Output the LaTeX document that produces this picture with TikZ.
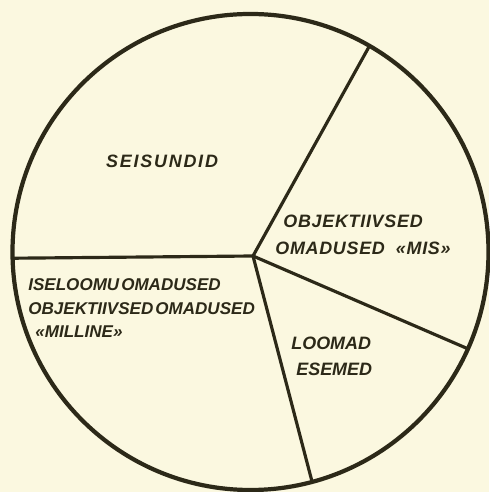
\documentclass[tikz,border=0pt]{standalone}
\usepackage{fontspec}
\setsansfont{Liberation Sans}
\usepackage{tikz}
\usetikzlibrary{positioning,calc}
\definecolor{papercol}{HTML}{FBF8E0}
\definecolor{inkcol}{HTML}{2C2918}
\tikzstyle{rim}=[draw=inkcol, line width=2.4pt]
\tikzstyle{spoke}=[draw=inkcol, line width=1.8pt]
\tikzstyle{sectortext}=[inner sep=0pt, text=inkcol, font=\sffamily\bfseries\itshape\fontsize{10.2}{14}\selectfont]

\begin{document}
\begin{tikzpicture}[x=0.2mm, y=0.2mm]
    \fill[papercol] (-250.5,-240) rectangle (238.5,252);
    \useasboundingbox (-250.5,-240) rectangle (238.5,252);

    \coordinate (mid) at (0,0);
    \coordinate (hub) at (2.5,-4);
    \coordinate (rimA) at (60:238);
    \coordinate (rimB) at (-24:238);
    \coordinate (rimC) at (-75:238);
    \coordinate (rimD) at (181.5:238);

    \draw[rim] (mid) circle (238);
    \draw[spoke] (hub) -- (rimA);
    \draw[spoke] (hub) -- (rimB);
    \draw[spoke] (hub) -- (rimC);
    \draw[spoke] (hub) -- (rimD);

    \node[sectortext] (states) at (-88.5,91) {\addfontfeature{LetterSpace=10}SEISUNDID};
    \node[sectortext, anchor=north west, align=left,
          font=\sffamily\bfseries\itshape\fontsize{10.2}{15.3}\selectfont\addfontfeature{LetterSpace=4}]
          (mis) at (24.5,37.5) {\hspace*{1.6mm}OBJEKTIIVSED\\OMADUSED\hspace{2.2mm}«MIS»};
    \node[sectortext, anchor=north west, align=left,
          font=\sffamily\bfseries\itshape\fontsize{9.7}{13.4}\selectfont]
          (milline) at (-222.5,-26.5) {ISELOOMU\hspace{0.4mm}OMADUSED\\OBJEKTIIVSED\hspace{0.4mm}OMADUSED\\\hspace*{1.4mm}«MILLINE»};
    \node[sectortext, anchor=north west, align=left,
          font=\sffamily\bfseries\itshape\fontsize{10.2}{14.8}\selectfont]
          (things) at (40.5,-84.5) {LOOMAD\\\hspace*{1mm}ESEMED};
\end{tikzpicture}
\end{document}
